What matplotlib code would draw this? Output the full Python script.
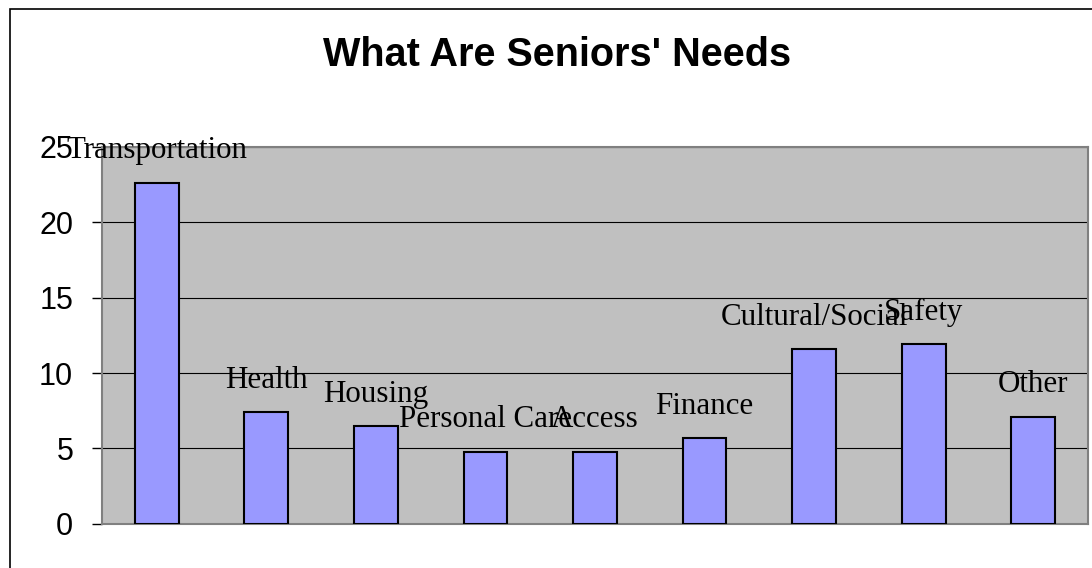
import matplotlib.pyplot as plt
from matplotlib.patches import Rectangle

categories = ['Transportation', 'Health', 'Housing', 'Personal Care', 'Access',
              'Finance', 'Cultural/Social', 'Safety', 'Other']
values = [22.6, 7.4, 6.5, 4.8, 4.8, 5.7, 11.6, 11.9, 7.1]
y_ticks = [0, 5, 10, 15, 20, 25]

fig = plt.figure(figsize=(10.92, 5.68), dpi=100)
ax = fig.add_axes([0.0934, 0.0775, 0.9029, 0.6645])
ax.set_facecolor('#C0C0C0')

positions = range(len(categories))
ax.bar(positions, values, width=0.40, color='#9999FF', edgecolor='black',
       linewidth=1.5, zorder=3)

# category names sit above each column
for p, cat, v in zip(positions, categories, values):
    ax.annotate(cat, (p, v), xytext=(0, 17.5), textcoords='offset points',
                ha='center', va='baseline', fontsize=22.3,
                family='Liberation Serif', zorder=4, annotation_clip=False)

ax.set_xlim(-0.5, len(categories) - 0.5)
ax.set_ylim(0, 25)
ax.set_yticks(y_ticks)
ax.set_yticklabels([str(t) for t in y_ticks], fontsize=22, family='Liberation Sans')
ax.set_xticks([])
ax.tick_params(axis='y', length=7.2, width=1, color='black', pad=13.5)
ax.yaxis.grid(True, color='black', linewidth=0.8, zorder=1)
ax.set_axisbelow(True)
for side in ['top', 'right', 'bottom', 'left']:
    ax.spines[side].set_color('#808080')
    ax.spines[side].set_linewidth(1.5)

fig.text(0.5105, 0.883, "What Are Seniors' Needs", ha='center', va='baseline',
         fontsize=28.5, fontweight='bold', family='Liberation Sans')

# chart area frame
fig.patches.append(Rectangle((10 / 1092, -0.1), 1.2, 1.1 - 9 / 568,
                             transform=fig.transFigure, fill=False,
                             edgecolor='black', linewidth=1.2))

fig.savefig('out.png', dpi=100)
